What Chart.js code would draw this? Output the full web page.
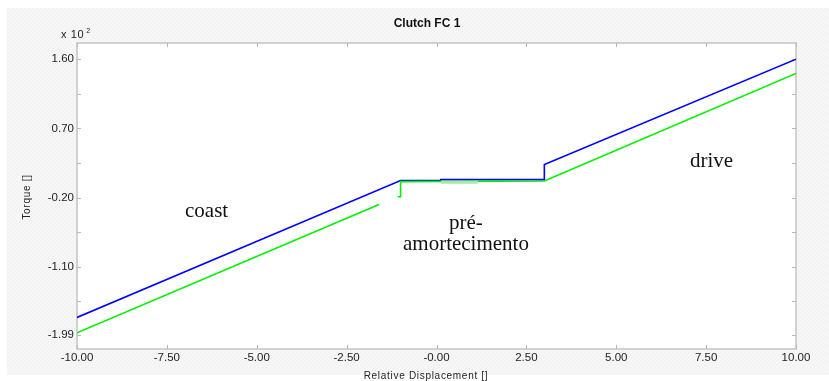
<!DOCTYPE html>
<html>
<head>
<meta charset="utf-8">
<script src="https://cdn.jsdelivr.net/npm/chart.js@4.4.1/dist/chart.umd.min.js"></script>
<style>
html,body{margin:0;padding:0;background:#fff;}
canvas{display:block;}
</style>
</head>
<body>
<canvas id="c" width="829" height="381"></canvas>
<script>
// ---- data (torque in units of 10^2) ----
const blueX  = [-10, -1, 0.12, 0.12, 3, 3, 10];
const blueY  = [-1.76, 0.02, 0.02, 0.033, 0.033, 0.23, 1.60];
const greenX = [-10, -1.6, -1.3, -1.08, -1, -1, 3, 10];
const greenY = [-1.96, -0.29, null, -0.19, -0.19, 0.007, 0.015, 1.414];
const patchX = [0.12, 1.15];
const patchY = [0.0, 0.0];
const xTicks = [-10, -7.5, -5, -2.5, 0, 2.5, 5, 7.5, 10];
const xTickLabels = ['-10.00', '-7.50', '-5.00', '-2.50', '-0.00', '2.50', '5.00', '7.50', '10.00'];
const yTicks = [1.6, 1.15, 0.7, 0.25, -0.2, -0.65, -1.1, -1.545, -1.99];
const yTickLabels = ['1.60', '', '0.70', '', '-0.20', '', '-1.10', '', '-1.99'];
const titleText = 'Clutch FC 1';
const xTitle = 'Relative Displacement []';
const yTitle = 'Torque []';
const notes = [
  {text: 'coast', x: 185, y: 217},
  {text: 'pré-', x: 449, y: 229},
  {text: 'amortecimento', x: 403, y: 250},
  {text: 'drive', x: 690, y: 167}
];

const pts = (xs, ys) => xs.map((x, i) => ({x: x, y: ys[i]}));

const decor = {
  id: 'decor',
  beforeDraw(chart) {
    const ctx = chart.ctx, W = chart.width, H = chart.height, a = chart.chartArea;
    ctx.save();
    ctx.fillStyle = '#ffffff';
    ctx.fillRect(0, 0, W, H);
    ctx.fillStyle = '#f3f3f3';
    ctx.fillRect(7, 8, W - 7, H - 14);
    ctx.beginPath();
    ctx.rect(7, 8, W - 7, H - 14);
    ctx.clip();
    ctx.strokeStyle = '#fafafa';
    ctx.lineWidth = 1;
    for (let k = -H; k < W + H; k += 4) {
      ctx.beginPath();
      ctx.moveTo(k, H);
      ctx.lineTo(k + H, 0);
      ctx.stroke();
    }
    ctx.restore();
    ctx.save();
    ctx.fillStyle = '#ffffff';
    ctx.fillRect(a.left, a.top, a.right - a.left, a.bottom - a.top);
    ctx.restore();
  },
  beforeDatasetsDraw(chart) {
    const ctx = chart.ctx, a = chart.chartArea;
    const xs = chart.scales.x, ys = chart.scales.y;
    ctx.save();
    ctx.strokeStyle = '#c4c4c4';
    ctx.lineWidth = 1.5;
    ctx.strokeRect(a.left, a.top, a.right - a.left, a.bottom - a.top);
    ctx.lineWidth = 1;
    ctx.strokeStyle = '#b8b8b8';
    const L = 4;
    xTicks.forEach(v => {
      const px = Math.round(xs.getPixelForValue(v)) + 0.5;
      ctx.beginPath();
      ctx.moveTo(px, a.bottom); ctx.lineTo(px, a.bottom - L);
      ctx.moveTo(px, a.top); ctx.lineTo(px, a.top + L);
      ctx.stroke();
    });
    yTicks.forEach(v => {
      const py = Math.round(ys.getPixelForValue(v)) + 0.5;
      ctx.beginPath();
      ctx.moveTo(a.left, py); ctx.lineTo(a.left + L, py);
      ctx.moveTo(a.right, py); ctx.lineTo(a.right - L, py);
      ctx.stroke();
    });
    ctx.restore();
  },
  afterDraw(chart) {
    const ctx = chart.ctx, a = chart.chartArea;
    ctx.save();
    ctx.fillStyle = '#111';
    ctx.textAlign = 'center';
    ctx.textBaseline = 'middle';
    ctx.font = 'bold 12px "Liberation Sans", Arial, sans-serif';
    ctx.fillText(titleText, 427, 24);
    ctx.fillStyle = '#222';
    ctx.textAlign = 'left';
    ctx.font = '11px "Liberation Sans", Arial, sans-serif';
    ctx.letterSpacing = '0.6px';
    ctx.fillText('x 10', 61, 35);
    const w = ctx.measureText('x 10').width;
    ctx.letterSpacing = '0px';
    ctx.font = '7px "Liberation Sans", Arial, sans-serif';
    ctx.fillText('2', 61 + w + 2, 31);
    ctx.font = '10px "Liberation Sans", Arial, sans-serif';
    ctx.letterSpacing = '0.7px';
    ctx.textAlign = 'center';
    ctx.fillText(xTitle, 426, 376);
    ctx.translate(27, 197);
    ctx.rotate(-Math.PI / 2);
    ctx.fillText(yTitle, 0, 0);
    ctx.restore();
    ctx.save();
    ctx.fillStyle = '#111';
    ctx.font = '21px "Liberation Serif", "Times New Roman", serif';
    ctx.textAlign = 'left';
    ctx.textBaseline = 'alphabetic';
    notes.forEach(n => ctx.fillText(n.text, n.x, n.y));
    ctx.restore();
  }
};

new Chart(document.getElementById('c'), {
  type: 'scatter',
  data: {
    datasets: [
      {data: pts(patchX, patchY), showLine: true, borderColor: '#a8e8a8', borderWidth: 3, pointRadius: 0},
      {data: pts(greenX, greenY), showLine: true, borderColor: '#00f000', borderWidth: 1.6, pointRadius: 0, spanGaps: false},
      {data: pts(blueX, blueY), showLine: true, borderColor: '#0000ff', borderWidth: 1.6, pointRadius: 0}
    ]
  },
  options: {
    responsive: false,
    animation: false,
    devicePixelRatio: 1,
    layout: {padding: {top: 43, right: 33, bottom: 0, left: 0}},
    plugins: {legend: {display: false}, title: {display: false}, tooltip: {enabled: false}},
    scales: {
      x: {
        type: 'linear', min: -10, max: 10,
        grid: {display: false, drawTicks: false},
        border: {display: false},
        afterBuildTicks: s => { s.ticks = xTicks.map(v => ({value: v})); },
        afterFit: s => { s.height = 32; },
        ticks: {
          autoSkip: false, maxRotation: 0, padding: 2, color: '#222',
          font: {family: '"Liberation Sans", Arial, sans-serif', size: 11.5},
          callback: (v, i) => xTickLabels[i]
        }
      },
      y: {
        type: 'linear', min: -2.17, max: 1.81,
        grid: {display: false, drawTicks: false},
        border: {display: false},
        afterBuildTicks: s => { s.ticks = yTicks.map(v => ({value: v})); },
        afterFit: s => { s.width = 77; },
        ticks: {
          autoSkip: false, padding: 3, color: '#222',
          font: {family: '"Liberation Sans", Arial, sans-serif', size: 11.5},
          callback: (v, i) => yTickLabels[i]
        }
      }
    }
  },
  plugins: [decor]
});
</script>
</body>
</html>
